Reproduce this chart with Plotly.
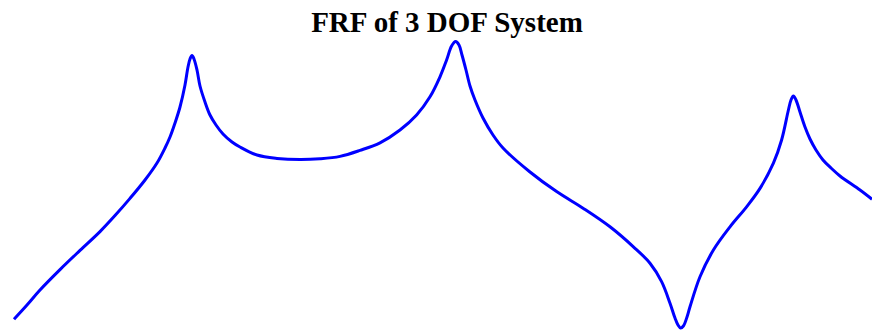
import plotly.graph_objects as go

# Frequency response magnitude of a 3-DOF system
freq_hz = [0.70, 1.35, 2.0, 3.0, 4.0, 5.0, 5.75, 6.5, 7.25, 7.85, 8.25, 8.5, 8.75, 9.0,
           9.25, 9.4, 9.5, 9.6, 9.7, 9.85, 10.0, 10.25, 10.5, 10.8, 11.15, 11.6, 12.0,
           12.85, 13.85, 15.0, 16.0, 17.0, 18.0, 19.0, 20.0, 20.83, 21.5, 22.0, 22.33,
           22.58, 22.78, 22.95, 23.1, 23.3, 23.5, 23.75, 24.15, 24.65, 25.15, 26.5,
           27.83, 29.17, 30.5, 31.67, 32.5, 33.08, 33.5, 33.75, 33.9, 34.03, 34.17,
           34.35, 34.5, 35.0, 35.67, 36.5, 37.33, 38.0, 38.67, 39.08, 39.42, 39.55,
           39.67, 39.8, 40.0, 40.25, 40.5, 40.8, 41.15, 41.55, 42.0, 43.0, 43.6]
mag_db = [-79.8, -76.25, -72.5, -67.4, -62.6, -57.9, -53.9, -49.6, -45.0, -40.75, -37.0,
          -34.25, -30.75, -26.75, -21.25, -16.75, -14.75, -13.9, -14.75, -17.5, -21.5,
          -25.5, -28.75, -31.25, -33.5, -35.5, -36.75, -38.75, -39.6, -39.9, -39.7,
          -39.1, -37.6, -35.7, -32.5, -28.75, -24.2, -19.2, -15.0, -11.5, -10.4, -11.25,
          -13.75, -17.5, -21.5, -25.0, -29.5, -33.75, -37.0, -43.0, -47.9, -52.1, -56.7,
          -61.7, -65.8, -70.4, -75.8, -79.5, -81.25, -82.0, -81.5, -79.25, -76.7, -69.2,
          -62.5, -56.7, -51.7, -47.1, -40.8, -35.0, -27.5, -25.0, -24.0, -25.0, -28.0,
          -31.75, -34.75, -37.5, -40.0, -42.0, -44.0, -47.5, -49.8]

fig = go.Figure()
fig.add_trace(go.Scatter(
    x=freq_hz, y=mag_db, mode="lines",
    line=dict(color="#0000ff", width=3, shape="spline", smoothing=1.0),
    showlegend=False, hoverinfo="skip",
))

fig.update_layout(
    width=872, height=331,
    margin=dict(l=0, r=0, t=0, b=0),
    paper_bgcolor="white", plot_bgcolor="white",
    title=dict(
        text="<b>FRF of 3 DOF System</b>",
        x=447 / 872, xref="container", xanchor="center",
        y=1 - 22 / 331, yref="container", yanchor="middle",
        font=dict(family="Liberation Serif, Times New Roman, serif", size=29, color="black"),
    ),
    xaxis=dict(range=[0, 43.6], visible=False, fixedrange=True),
    yaxis=dict(range=[-82.75, 0], visible=False, fixedrange=True),
)

fig.write_html("out.html")
